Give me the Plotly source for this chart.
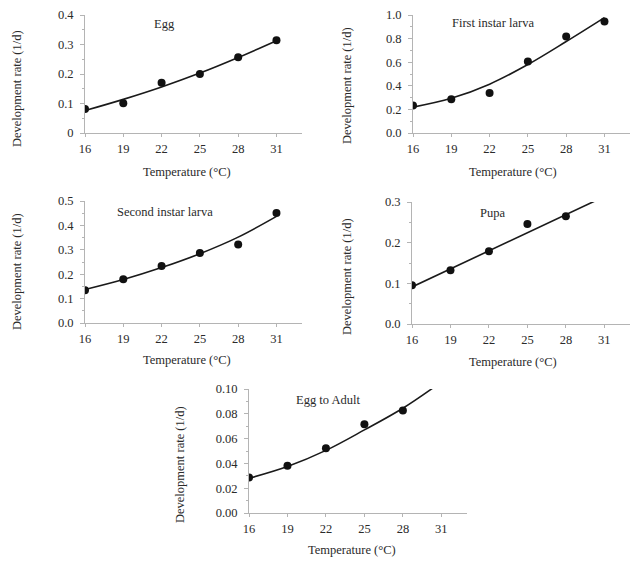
import plotly.graph_objects as go

# ---- data ----
temps = [16, 19, 22, 25, 28, 31]
temps_pupa = [16, 19, 22, 25, 28]

egg_obs = [0.081, 0.101, 0.170, 0.200, 0.257, 0.314]
egg_fit_t = [16, 19, 22, 25, 28, 31]
egg_fit = [0.076, 0.114, 0.156, 0.203, 0.256, 0.313]

l1_obs = [0.234, 0.286, 0.339, 0.606, 0.818, 0.945]
l1_fit_t = [16, 19, 22, 25, 28, 31]
l1_fit = [0.219, 0.294, 0.414, 0.580, 0.775, 0.978]

l2_obs = [0.134, 0.179, 0.234, 0.287, 0.322, 0.451]
l2_fit_t = [16, 19, 22, 25, 28, 31]
l2_fit = [0.137, 0.178, 0.227, 0.284, 0.352, 0.437]

pupa_obs = [0.095, 0.132, 0.179, 0.246, 0.265]
pupa_fit_t = [16, 30.3]
pupa_fit = [0.091, 0.303]

ad_obs = [0.0287, 0.0381, 0.0522, 0.0716, 0.0827]
ad_fit_t = [16, 19, 22, 25, 28, 30.3]
ad_fit = [0.0280, 0.0375, 0.0505, 0.0670, 0.0845, 0.1005]

x_ticks = [16, 19, 22, 25, 28, 31]

# page body margin offsets the figure by 8px; size the figure to fit the window
OFF = 8
W, H = 640 - OFF, 569 - OFF

def px_x(p):
    return (p - OFF) / W

def px_y(p):
    return 1 - (p - OFF) / H

panels = [
    dict(name="Egg", ot=temps, o=egg_obs, ft=egg_fit_t, f=egg_fit,
         box=(85, 302, 15, 133), yr=0.4, dt=0.1, fmt=None,
         lab=(164, 24), yt=(17, 89), xt=(187, 172)),
    dict(name="First instar larva", ot=temps, o=l1_obs, ft=l1_fit_t, f=l1_fit,
         box=(413, 630, 15, 133), yr=1.0, dt=0.2, fmt=".1f",
         lab=(493, 23), yt=(347, 86), xt=(513, 172)),
    dict(name="Second instar larva", ot=temps, o=l2_obs, ft=l2_fit_t, f=l2_fit,
         box=(85, 302, 201, 323), yr=0.5, dt=0.1, fmt=".1f",
         lab=(165, 212), yt=(17, 272), xt=(187, 360)),
    dict(name="Pupa", ot=temps_pupa, o=pupa_obs, ft=pupa_fit_t, f=pupa_fit,
         box=(412, 630, 202, 324), yr=0.3, dt=0.1, fmt=".1f",
         lab=(492, 213), yt=(347, 277), xt=(513, 362)),
    dict(name="Egg to Adult", ot=temps_pupa, o=ad_obs, ft=ad_fit_t, f=ad_fit,
         box=(249, 467, 389, 513), yr=0.10, dt=0.02, fmt=".2f",
         lab=(328, 400), yt=(180, 465), xt=(352, 550)),
]

fig = go.Figure()
font = "Liberation Serif, Times New Roman, serif"
tcol = "#2a2a2a"
acol = "#b4b4b4"
annotations = []
layout_axes = {}

for i, p in enumerate(panels):
    n = "" if i == 0 else str(i + 1)
    xa, ya = "x" + n, "y" + n
    fig.add_trace(go.Scatter(x=p["ft"], y=p["f"], mode="lines",
                             line=dict(color="#1a1a1a", width=1.6, shape="spline"),
                             xaxis=xa, yaxis=ya, showlegend=False))
    fig.add_trace(go.Scatter(x=p["ot"], y=p["o"], mode="markers",
                             marker=dict(color="#111", size=8),
                             xaxis=xa, yaxis=ya, showlegend=False))
    x0, x1, yt_, yb = p["box"]
    layout_axes["xaxis" + n] = dict(
        domain=[px_x(x0), px_x(x1)], range=[16, 33], anchor=ya, automargin=False,
        tickvals=x_ticks, ticks="outside", ticklen=3, tickcolor=acol,
        ticklabelstandoff=1, ticklabeloverflow="allow",
        showline=True, linecolor=acol, linewidth=1, showgrid=False, zeroline=False,
        tickfont=dict(family=font, size=12.5, color=tcol), fixedrange=True)
    ytickvals = [round(k * p["dt"], 4) for k in range(int(round(p["yr"] / p["dt"])) + 1)]
    if p["fmt"] is None:
        ytext = ["0"] + [f"{v:.1f}" for v in ytickvals[1:]]
    else:
        ytext = [format(v, p["fmt"]) for v in ytickvals]
    layout_axes["yaxis" + n] = dict(
        domain=[px_y(yb), px_y(yt_)], range=[0, p["yr"]], anchor=xa, automargin=False,
        tickvals=ytickvals, ticktext=ytext, ticks="outside", ticklen=4, tickcolor=acol,
        ticklabelstandoff=4, ticklabeloverflow="allow",
        minor=dict(ticks="outside", ticklen=2, dtick=p["dt"] / 2, tick0=0, tickcolor=acol),
        showline=True, linecolor=acol, linewidth=1, showgrid=False, zeroline=False,
        tickfont=dict(family=font, size=12.5, color=tcol), fixedrange=True)
    annotations.append(dict(text=p["name"], x=px_x(p["lab"][0]), y=px_y(p["lab"][1]),
                            xref="paper", yref="paper", showarrow=False,
                            xanchor="center", yanchor="middle",
                            font=dict(family=font, size=12.5, color=tcol)))
    annotations.append(dict(text="Development rate (1/d)", x=px_x(p["yt"][0]), y=px_y(p["yt"][1]),
                            xref="paper", yref="paper", showarrow=False, textangle=-90,
                            xanchor="center", yanchor="middle",
                            font=dict(family=font, size=12.5, color=tcol)))
    annotations.append(dict(text="Temperature (\u00b0C)", x=px_x(p["xt"][0]), y=px_y(p["xt"][1]),
                            xref="paper", yref="paper", showarrow=False,
                            xanchor="center", yanchor="middle",
                            font=dict(family=font, size=12.5, color=tcol)))

fig.update_layout(width=W, height=H, margin=dict(l=0, r=0, t=0, b=0, autoexpand=False),
                  template="none",
                  plot_bgcolor="white", paper_bgcolor="white",
                  annotations=annotations, **layout_axes)

fig.write_html("out.html")
